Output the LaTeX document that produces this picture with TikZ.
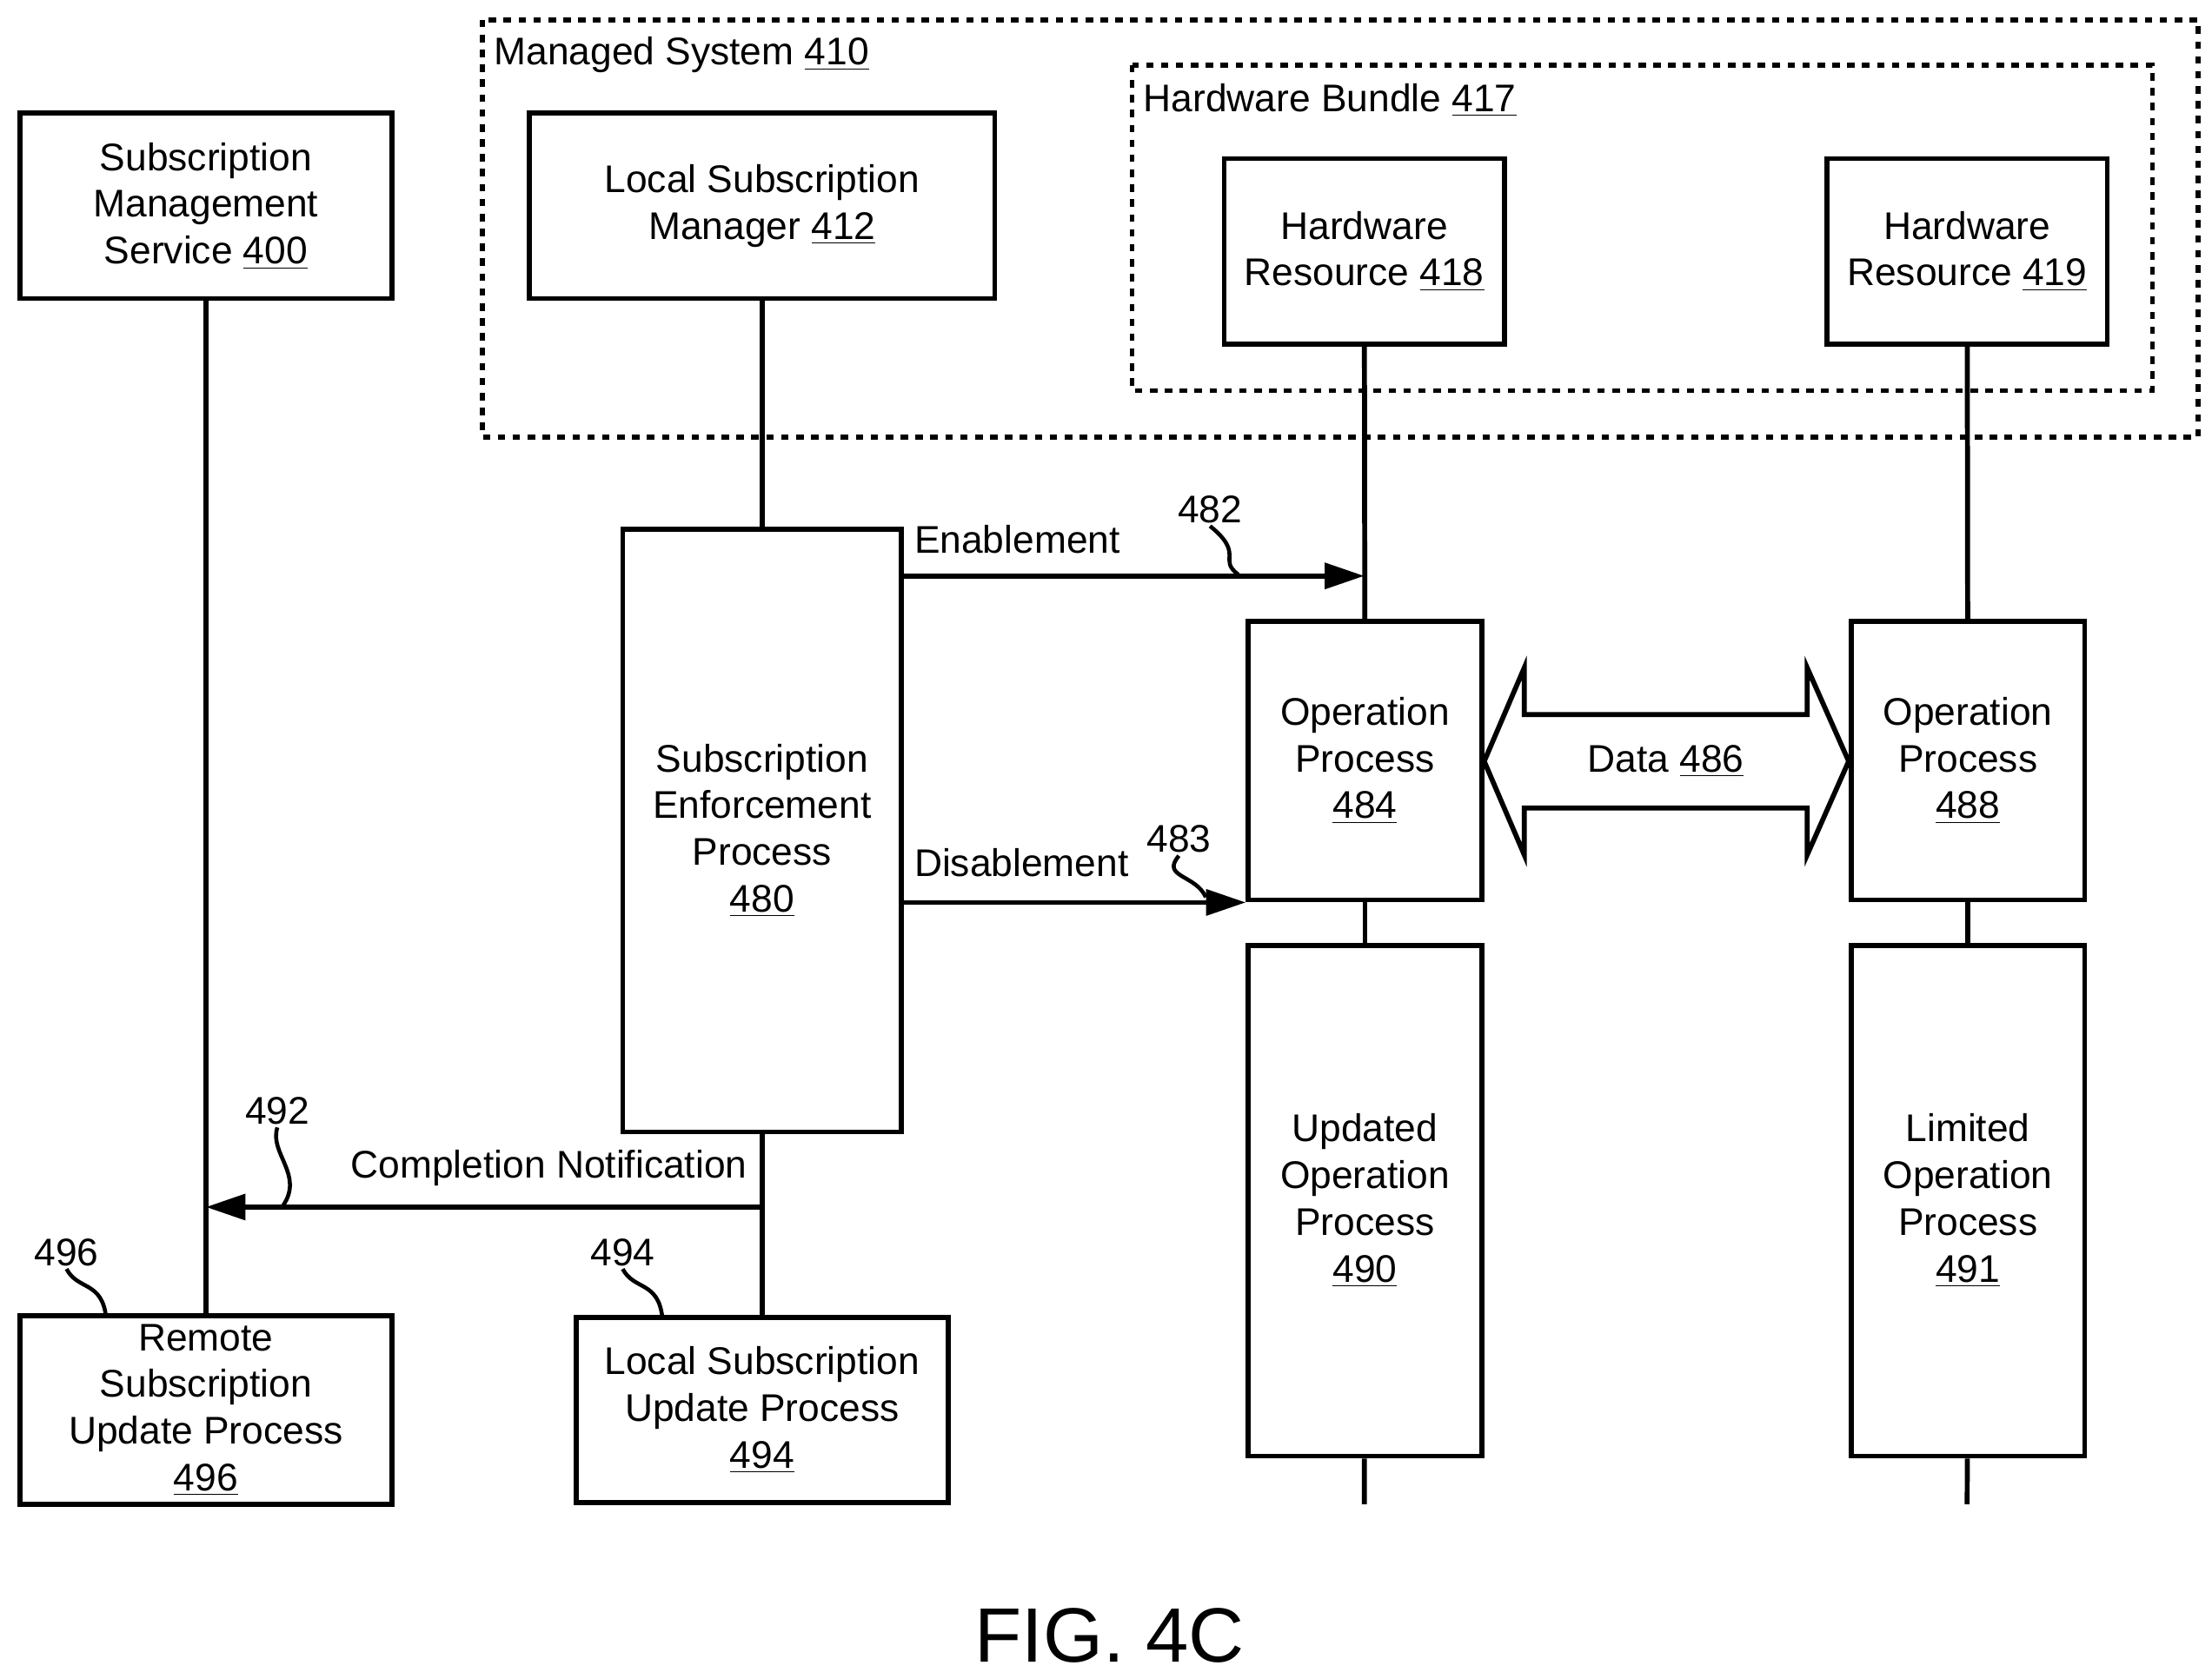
\documentclass[tikz,border=0pt]{standalone}
\usepackage{fontspec}
\setmainfont{Liberation Sans}
\usetikzlibrary{arrows.meta}
\tikzset{
  blk/.style={draw,line width=2pt,align=center,font=\fontsize{15.5}{18.8}\selectfont},
  life/.style={line width=2pt},
  msg/.style={line width=2pt,-{Triangle[length=0.56cm,width=0.36cm]}},
  bundle/.style={line width=2pt,dash pattern=on 3pt off 3pt},
  lbl/.style={font=\fontsize{15.5}{18.8}\selectfont,inner sep=1pt},
  squig/.style={line width=1.6pt}
}
\begin{document}
\begin{tikzpicture}[x=0.02cm,y=-0.02cm]
\useasboundingbox (0,0) rectangle (1563,1186);
% managed system and bundle
\draw[bundle] (341,14) rectangle (1553,309);
\node[lbl,anchor=north west] (msys) at (347,24) {Managed System \underline{410}};
\draw[bundle] (800,46) rectangle (1521,276);
\node[lbl,anchor=north west] (hwb) at (806,57) {Hardware Bundle \underline{417}};
% boxes
\node[blk,minimum width=5.26cm,minimum height=2.62cm] (sms) at (145.5,145.5) {Subscription\\Management\\Service \underline{400}};
\node[blk,minimum width=6.58cm,minimum height=2.62cm] (lsm) at (538.5,145.5) {Local Subscription\\Manager \underline{412}};
\node[blk,minimum width=3.96cm,minimum height=2.62cm] (hr418) at (964,177.5) {Hardware\\Resource \underline{418}};
\node[blk,minimum width=3.96cm,minimum height=2.62cm] (hr419) at (1390,177.5) {Hardware\\Resource \underline{419}};
\node[blk,minimum width=3.94cm,minimum height=8.52cm] (sep) at (538.5,587) {Subscription\\Enforcement\\Process\\\underline{480}};
\node[blk,minimum width=3.3cm,minimum height=3.94cm] (op484) at (964.5,537.5) {Operation\\Process\\\underline{484}};
\node[blk,minimum width=3.3cm,minimum height=3.94cm] (op488) at (1390.5,537.5) {Operation\\Process\\\underline{488}};
\node[blk,minimum width=3.3cm,minimum height=7.22cm] (uop) at (964.5,848.5) {Updated\\Operation\\Process\\\underline{490}};
\node[blk,minimum width=3.3cm,minimum height=7.22cm] (lop) at (1390.5,848.5) {Limited\\Operation\\Process\\\underline{491}};
\node[blk,minimum width=5.26cm,minimum height=2.62cm] (rsup) at (145.5,996.5) {Remote\\Subscription\\Update Process\\\underline{496}};
\node[blk,minimum width=5.26cm,minimum height=2.62cm] (lsup) at (538.5,996.5) {Local Subscription\\Update Process\\\underline{494}};
% lifelines
\coordinate (end484) at (964,1063);
\coordinate (end488) at (1390,1063);
\draw[life] (sms) -- (rsup);
\draw[life] (lsm) -- (sep);
\draw[life] (sep) -- (lsup);
\draw[life] (hr418) -- (op484);
\draw[life] (op484) -- (uop);
\draw[life] (uop) -- (end484);
\draw[life] (hr419) -- (op488);
\draw[life] (op488) -- (lop);
\draw[life] (lop) -- (end488);
% messages
\coordinate (en) at (964,407);
\coordinate (cn) at (539,853);
\draw[msg] (sep.east |- en) -- (en);
\node[lbl,anchor=south west] (enl) at (644,393) {Enablement};
\draw[msg] (sep.east |- op484.south) -- (op484.south west);
\node[lbl,anchor=south west] (disl) at (644,622) {Disablement};
\draw[msg] (cn) -- (sms.center |- cn);
\node[lbl,anchor=south east] (compl) at (530,840) {Completion Notification};
% data arrow
\draw[line width=2pt] (op484.east |- 0,538) -- (1077,472) -- (1077,505) -- (1277,505) -- (1277,472)
  -- (op488.west |- 0,538) -- (1277,604) -- (1277,571) -- (1077,571) -- (1077,604) -- cycle;
\node[lbl] (data) at (1177,538) {Data \underline{486}};
% reference numerals
\node[lbl] (n482) at (855,360) {482};
\draw[squig] (n482.south) .. controls (880,392) and (860,395) .. (875,406);
\node[lbl] (n483) at (833,593) {483};
\draw[squig] (n483.south) .. controls (820,620) and (845,618) .. (852,634);
\node[lbl] (n492) at (196,785) {492};
\draw[squig] (n492.south) .. controls (190,815) and (215,830) .. (200,852);
\node[lbl] (n496) at (47,885) {496};
\draw[squig] (n496.south) .. controls (55,912) and (72,905) .. (75,931);
\node[lbl] (n494) at (440,885) {494};
\draw[squig] (n494.south) .. controls (448,912) and (465,905) .. (468,931);
\node[font=\fontsize{31}{36}\selectfont] (fig) at (784,1156) {FIG. 4C};
\end{tikzpicture}
\end{document}
